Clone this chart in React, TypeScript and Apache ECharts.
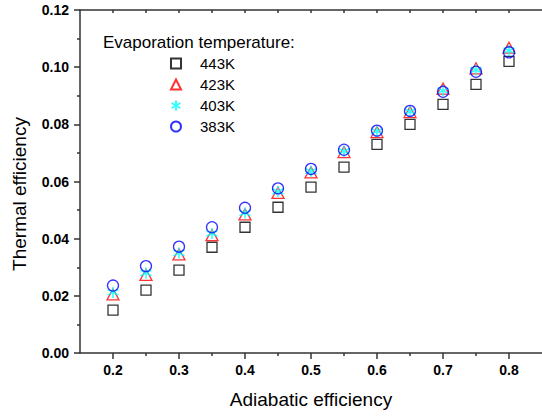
import React, { useEffect, useRef } from "react";
import * as echarts from "echarts";

const adiabatic = [0.2, 0.25, 0.3, 0.35, 0.4, 0.45, 0.5, 0.55, 0.6, 0.65, 0.7, 0.75, 0.8];
const eff443 = [0.015, 0.022, 0.029, 0.037, 0.044, 0.051, 0.058, 0.065, 0.073, 0.08, 0.087, 0.094, 0.102];
const eff423 = [0.0205, 0.0273, 0.0345, 0.0412, 0.0485, 0.056, 0.0632, 0.0703, 0.0773, 0.0843, 0.0925, 0.0996, 0.1068];
const eff403 = [0.0212, 0.028, 0.035, 0.0418, 0.049, 0.0565, 0.0636, 0.0706, 0.0776, 0.0845, 0.0918, 0.099, 0.1058];
const eff383 = [0.0236, 0.0304, 0.0372, 0.044, 0.0508, 0.0576, 0.0644, 0.0711, 0.0778, 0.0847, 0.0914, 0.0984, 0.1052];

const xMajor = [0.2, 0.3, 0.4, 0.5, 0.6, 0.7, 0.8];
const xMinor = [0.25, 0.35, 0.45, 0.55, 0.65, 0.75];
const xTop = [0.2, 0.25, 0.3, 0.35, 0.4, 0.45, 0.5, 0.55, 0.6, 0.65, 0.7, 0.75, 0.8];

const FONT = "Liberation Sans, Arial, sans-serif";
const ASTERISK = "path://M5,0L5,10M0.67,2.5L9.33,7.5M0.67,7.5L9.33,2.5";

function zip(ys: number[]) {
  return adiabatic.map((x, i) => [x, ys[i]]);
}

export default function App() {
  const ref = useRef<HTMLDivElement>(null);
  useEffect(() => {
    if (!ref.current) return;
    const chart = echarts.init(ref.current, undefined, { renderer: "svg" });
    const axisLine = { show: true, lineStyle: { color: "#333", width: 1.5 } };
    chart.setOption({
      animation: false,
      backgroundColor: "#fff",
      title: {
        text: "Evaporation temperature:",
        left: 103,
        top: 34,
        padding: 0,
        textStyle: { fontFamily: FONT, fontSize: 17, fontWeight: "normal", color: "#000" },
      },
      legend: {
        orient: "vertical",
        left: 170,
        top: 56,
        padding: 0,
        itemWidth: 10,
        itemHeight: 10,
        itemGap: 6,
        textStyle: { fontFamily: FONT, fontSize: 15, color: "#000", lineHeight: 14, padding: [0, 0, 0, 14] },
        data: ["443K", "423K", "403K", "383K"],
      },
      grid: { left: 80, top: 10, width: 463, height: 343 },
      xAxis: [
        {
          type: "value",
          min: 0.15,
          max: 0.85,
          position: "bottom",
          name: "Adiabatic efficiency",
          nameLocation: "middle",
          nameGap: 37,
          nameTextStyle: { fontFamily: FONT, fontSize: 19, color: "#000" },
          axisLine,
          splitLine: { show: false },
          axisTick: { show: true, length: 6, customValues: xMajor, lineStyle: { color: "#333", width: 1.5 } },
          axisLabel: {
            customValues: xMajor,
            margin: 10,
            fontFamily: FONT,
            fontSize: 14,
            fontWeight: "bold",
            color: "#000",
            formatter: (v: number) => v.toFixed(1),
          },
        },
        {
          type: "value",
          min: 0.15,
          max: 0.85,
          position: "bottom",
          axisLine: { show: false },
          splitLine: { show: false },
          axisLabel: { show: false },
          axisTick: { show: true, length: 3, customValues: xMinor, lineStyle: { color: "#333", width: 1.5 } },
        },
        {
          type: "value",
          min: 0.15,
          max: 0.85,
          position: "top",
          axisLine,
          splitLine: { show: false },
          axisLabel: { show: false },
          axisTick: { show: true, inside: true, length: 3, customValues: xTop, lineStyle: { color: "#333", width: 1.5 } },
        },
      ],
      yAxis: [
        {
          type: "value",
          min: 0,
          max: 0.12,
          interval: 0.02,
          axisLine,
          splitLine: { show: false },
          axisTick: { show: true, length: 6, lineStyle: { color: "#333", width: 1.5 } },
          minorTick: { show: true, splitNumber: 2, length: 3, lineStyle: { color: "#333", width: 1.5 } },
          axisLabel: {
            margin: 11,
            fontFamily: FONT,
            fontSize: 14,
            fontWeight: "bold",
            color: "#000",
            formatter: (v: number) => v.toFixed(2),
          },
        },
      ],
      graphic: [
        {
          type: "text",
          x: 19,
          y: 194,
          rotation: Math.PI / 2,
          style: {
            text: "Thermal efficiency",
            fontFamily: FONT,
            fontSize: 19,
            fill: "#000",
            align: "center",
            verticalAlign: "middle",
          },
        },
      ],
      series: [
        {
          name: "443K",
          type: "scatter",
          data: zip(eff443),
          symbol: "rect",
          symbolSize: 10,
          itemStyle: { color: "rgba(255,255,255,0)", borderColor: "#000", borderWidth: 1.3 },
        },
        {
          name: "423K",
          type: "scatter",
          data: zip(eff423),
          symbol: "triangle",
          symbolSize: [12, 11],
          itemStyle: { color: "rgba(255,255,255,0)", borderColor: "#ff0000", borderWidth: 1.3 },
        },
        {
          name: "403K",
          type: "scatter",
          data: zip(eff403),
          symbol: ASTERISK,
          symbolSize: 11,
          itemStyle: { color: "rgba(255,255,255,0)", borderColor: "#00ffff", borderWidth: 1.6 },
        },
        {
          name: "383K",
          type: "scatter",
          data: zip(eff383),
          symbol: "circle",
          symbolSize: 11,
          itemStyle: { color: "rgba(255,255,255,0)", borderColor: "#0000ff", borderWidth: 1.3 },
        },
      ],
    });
    return () => chart.dispose();
  }, []);
  return (
    <div
      ref={ref}
      style={{ position: "absolute", left: 0, top: 0, width: 542, height: 416, background: "#fff" }}
    />
  );
}
